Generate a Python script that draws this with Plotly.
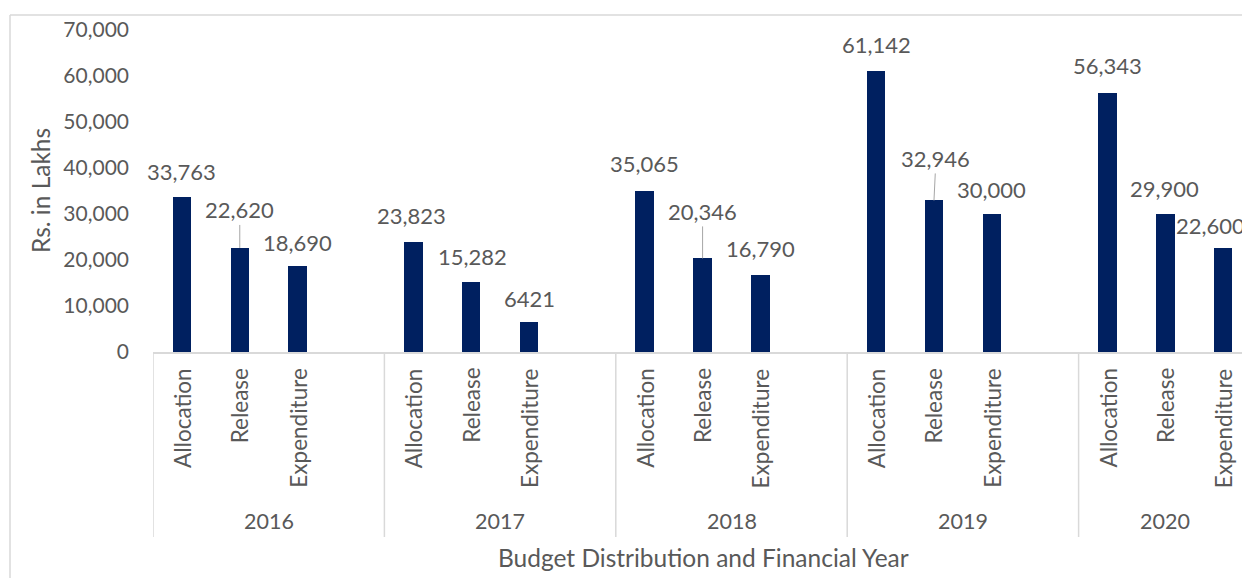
import plotly.graph_objects as go

# ---- data ----
years = ["2016", "2017", "2018", "2019", "2020"]
measures = ["Allocation", "Release", "Expenditure"]
allocation = [33763, 23823, 35065, 61142, 56343]
release = [22620, 15282, 20346, 32946, 29900]
expenditure = [18690, 6421, 16790, 30000, 22600]
# data labels as printed on the chart (Excel showed 6421 without separator)
label_text = {
    "Allocation": ["33,763", "23,823", "35,065", "61,142", "56,343"],
    "Release": ["22,620", "15,282", "20,346", "32,946", "29,900"],
    "Expenditure": ["18,690", "6421", "16,790", "30,000", "22,600"],
}
series = {"Allocation": allocation, "Release": release, "Expenditure": expenditure}
y_ticks = [0, 10000, 20000, 30000, 40000, 50000, 60000, 70000]

# ---- style ----
BAR = "#002060"
TXT = "#595959"
LINE = "#d9d9d9"
FONT = "Lato"
FS_TICK = 21
FS_DATA = 22
FS_CAT = 22.5
FS_YEAR = 21.5
FS_TITLE = 24.5
SLOTS_PER_GROUP = 4  # 3 measures + an empty gap slot

# label pixel offsets (dx, dy) relative to bar top, and which use leader lines
label_offsets = {
    "Allocation": [(0, -25), (-2, -27), (0, -27), (0, -26), (0, -27)],
    "Release": [(0, -38), (1, -25), (0, -47), (2, -42), (-1, -26)],
    "Expenditure": [(0, -24), (0, -24), (0, -26), (0, -25), (-13, -23)],
}
leader = {"Release": [True, False, True, True, False]}

L, T, B = 153, 30, 226
W, H = 1242, 578
plot_w = W - L
plot_h = H - T - B
slot_px = 57.85
x_max = -0.5 + plot_w / slot_px


def px_to_paper_y(py):
    return (H - B - py) / plot_h


def px_to_paper_x(px):
    return (px - L) / plot_w


fig = go.Figure()
annotations = []
for mi, m in enumerate(measures):
    xs = [SLOTS_PER_GROUP * gi + mi for gi in range(len(years))]
    vals = series[m]
    fig.add_trace(go.Bar(x=xs, y=vals, width=0.32, marker=dict(color=BAR, line=dict(width=0)),
                         name=m, showlegend=False, hoverinfo="x+y"))
    for gi, (x, v) in enumerate(zip(xs, vals)):
        dx, dy = label_offsets[m][gi]
        use_leader = leader.get(m, [False] * 5)[gi]
        if use_leader:
            annotations.append(dict(x=x, y=v, xref="x", yref="y", text=label_text[m][gi],
                                    showarrow=True, arrowhead=0, arrowwidth=1, arrowcolor="#a6a6a6",
                                    ax=dx, ay=dy, standoff=0,
                                    font=dict(family=FONT, size=FS_DATA, color=TXT)))
        else:
            annotations.append(dict(x=x, y=v, xref="x", yref="y", text=label_text[m][gi],
                                    showarrow=False, xanchor="center", yanchor="middle",
                                    xshift=dx, yshift=-dy,
                                    font=dict(family=FONT, size=FS_DATA, color=TXT)))
        # category label (rotated)
        annotations.append(dict(x=x, y=0, xref="x", yref="y", text=m, textangle=-90,
                                showarrow=False, xanchor="center", yanchor="top", yshift=-14,
                                font=dict(family=FONT, size=FS_CAT, color=TXT)))

shapes = []
n_groups = len(years)
for gi, yr in enumerate(years):
    n_slots = SLOTS_PER_GROUP if gi < n_groups - 1 else len(measures)
    center = SLOTS_PER_GROUP * gi + (n_slots - 1) / 2
    annotations.append(dict(x=center, y=px_to_paper_y(521), xref="x", yref="paper", text=yr,
                            showarrow=False, xanchor="center", yanchor="middle",
                            font=dict(family=FONT, size=FS_YEAR, color=TXT)))
    xb = SLOTS_PER_GROUP * gi - 0.5
    shapes.append(dict(type="line", xref="x", yref="paper", x0=xb, x1=xb, y0=0,
                       y1=px_to_paper_y(537), line=dict(color=LINE, width=1.5)))

# axis titles
annotations.append(dict(x=px_to_paper_x(40), y=0.5, xref="paper", yref="paper", text="Rs. in Lakhs",
                        textangle=-90, showarrow=False, xanchor="center", yanchor="middle",
                        font=dict(family=FONT, size=FS_TITLE, color=TXT)))
annotations.append(dict(x=px_to_paper_x(703), y=px_to_paper_y(557), xref="paper", yref="paper",
                        text="Budget Distribution and Financial Year", showarrow=False,
                        xanchor="center", yanchor="middle",
                        font=dict(family=FONT, size=FS_TITLE, color=TXT)))

# outer chart border (left and top visible)
shapes.append(dict(type="line", xref="paper", yref="paper", x0=px_to_paper_x(10), x1=px_to_paper_x(10),
                   y0=px_to_paper_y(15), y1=px_to_paper_y(600), line=dict(color=LINE, width=1.5)))
shapes.append(dict(type="line", xref="paper", yref="paper", x0=px_to_paper_x(10), x1=px_to_paper_x(1260),
                   y0=px_to_paper_y(15), y1=px_to_paper_y(15), line=dict(color=LINE, width=1.5)))

fig.update_layout(
    width=W, height=H,
    margin=dict(l=L, r=0, t=T, b=B, pad=0),
    paper_bgcolor="white", plot_bgcolor="white",
    font=dict(family=FONT, size=FS_TICK, color=TXT),
    bargap=0,
    xaxis=dict(range=[-0.5, x_max], showticklabels=False, showgrid=False, zeroline=False,
               showline=True, linecolor=LINE, linewidth=1.5, ticks="", fixedrange=True),
    yaxis=dict(range=[0, 70000], tickvals=y_ticks, tickformat=",", showgrid=False, zeroline=False,
               showline=False, ticks="", ticklabelstandoff=23,
               tickfont=dict(family=FONT, size=FS_TICK, color=TXT), fixedrange=True),
    annotations=annotations,
    shapes=shapes,
)

fig.write_html("out.html", config={"displayModeBar": False})
